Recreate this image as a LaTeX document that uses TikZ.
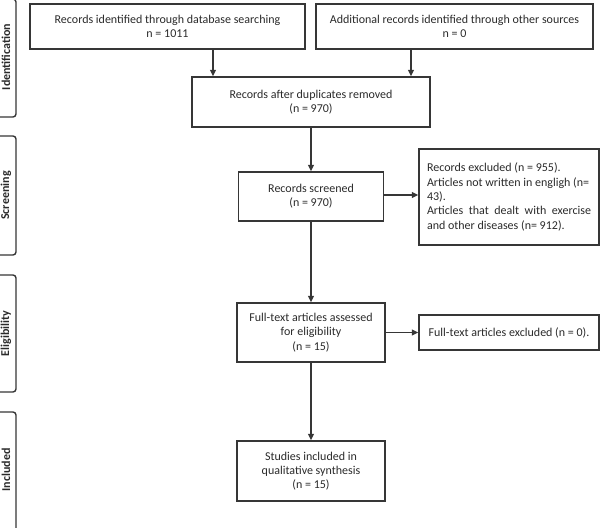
\documentclass[tikz,border=0pt]{standalone}
\usepackage{fontspec}
\setmainfont{Carlito}
\usetikzlibrary{arrows.meta}
\definecolor{linegray}{HTML}{363636}
\definecolor{textgray}{HTML}{2A2A2A}
\begin{document}
\begin{tikzpicture}[x=1pt,y=-1pt,
    box/.style={draw=linegray, line width=1.4pt, align=center, inner sep=2pt,
      text=textgray, font=\fontsize{12}{14.3}\selectfont},
    arrow/.style={draw=linegray, line width=1.4pt, -{Triangle[length=6.5pt,width=6pt]}},
    stagebox/.style={draw=linegray, line width=1.4pt, rounded corners=3pt},
    stagelabel/.style={rotate=90, text=textgray, font=\fontsize{12}{14}\bfseries\selectfont}]
  \useasboundingbox (0,0) rectangle (604,527);
  % stage tabs on the left
  \draw[stagebox] (-10,-1) rectangle (16,117);
  \node[stagelabel] (tabid) at (6,57) {Identification};
  \draw[stagebox] (-10,136) rectangle (16,255);
  \node[stagelabel] (tabscr) at (6,195.5) {Screening};
  \draw[stagebox] (-10,275) rectangle (16,392);
  \node[stagelabel] (tabelig) at (6,333.5) {Eligibility};
  \draw[stagebox] (-10,412) rectangle (16,540);
  \node[stagelabel] (tabincl) at (6,470) {Included};
  % boxes
  \node[box, minimum width=275pt, minimum height=45pt] (dbrec) at (167.5,26.5)
    {Records identified through database searching\\n = 1011};
  \node[box, minimum width=277pt, minimum height=45pt] (otherrec) at (454.5,26.5)
    {Additional records identified through other sources\\n = 0};
  \node[box, minimum width=238pt, minimum height=50pt] (dup) at (311,102)
    {Records after duplicates removed\\(n = 970)};
  \node[box, minimum width=145pt, minimum height=49pt] (scr) at (311,196.5)
    {Records screened\\(n = 970)};
  \node[box, minimum width=180pt, minimum height=96pt, align=left] (exc) at (509,197)
    {Records excluded (n = 955).\\Articles not written in engligh (n=\\43).\\
     \makebox[164pt][s]{Articles that dealt with exercise}\\and other diseases (n= 912).};
  \node[box, minimum width=148pt, minimum height=59pt] (elig) at (311,332.5)
    {Full-text articles assessed\\for eligibility\\(n = 15)};
  \node[box, minimum width=180pt, minimum height=35pt] (ftexc) at (509,332.5)
    {Full-text articles excluded (n = 0).};
  \node[box, minimum width=148pt, minimum height=60pt] (incl) at (311,471)
    {Studies included in\\qualitative synthesis\\(n = 15)};
  % connectors
  \draw[arrow] ([xshift=45.5pt]dbrec.south) -- ([xshift=45.5pt]dbrec.south |- dup.north);
  \draw[arrow] ([xshift=-43.5pt]otherrec.south) -- ([xshift=-43.5pt]otherrec.south |- dup.north);
  \draw[arrow] (dup.south) -- (scr.north);
  \draw[arrow] ([yshift=1.5pt]scr.east) -- ([yshift=1.5pt]scr.east -| exc.west);
  \draw[arrow] (scr.south) -- (elig.north);
  \draw[arrow] (elig.east) -- (elig.east -| ftexc.west);
  \draw[arrow] (elig.south) -- (incl.north);
\end{tikzpicture}
\end{document}
